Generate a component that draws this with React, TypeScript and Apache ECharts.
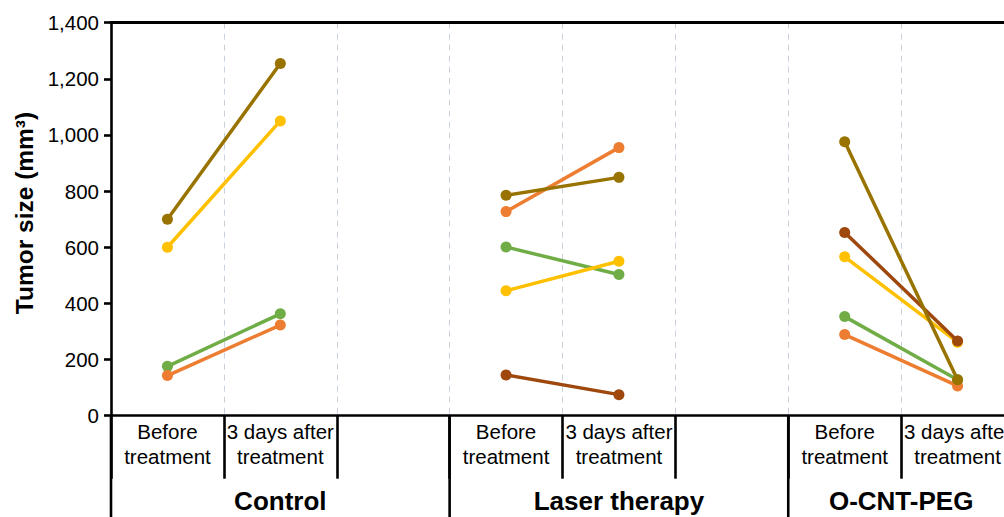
import React, { useEffect, useRef } from "react";
import * as echarts from "echarts";

const categories = [
  "Before\ntreatment",
  "3 days after\ntreatment",
  "",
  "Before\ntreatment",
  "3 days after\ntreatment",
  "",
  "Before\ntreatment",
  "3 days after\ntreatment",
];

const groups = ["Control", "Laser therapy", "O-CNT-PEG"];
const groupStart = [0, 3, 6];
const groupEnd = [3, 6, 8];

const yTicks = [0, 200, 400, 600, 800, 1000, 1200, 1400];

const oliveValues = [700, 1255, null, 785, 849, null, 976, 128];
const yellowValues = [600, 1050, null, 445, 550, null, 566, 262];
const greenValues = [176, 363, null, 601, 503, null, 353, 128];
const orangeValues = [143, 323, null, 727, 955, null, 289, 106];
const brownValues = [null, null, null, 145, 75, null, 653, 266];

const seriesDefs = [
  { name: "green", color: "#70AD47", data: greenValues },
  { name: "orange", color: "#ED7D31", data: orangeValues },
  { name: "yellow", color: "#FFC000", data: yellowValues },
  { name: "brown", color: "#9E480E", data: brownValues },
  { name: "olive", color: "#997300", data: oliveValues },
];

const FONT = "'Liberation Sans', Arial, Helvetica, sans-serif";
const CW = 1024;
const CH = 517;

export default function App() {
  const ref = useRef<HTMLDivElement>(null);

  useEffect(() => {
    if (!ref.current) return;
    const chart = echarts.init(ref.current, null, { renderer: "svg" });
    const left = 111;
    const rightEdge = 1014;
    const top = 22.7;
    const bottomY = 415.7;
    const catW = (rightEdge - left) / categories.length;

    const graphics: any[] = [];
    groupStart.forEach((s) => {
      const x = left + s * catW;
      graphics.push({
        type: "line",
        shape: { x1: x, y1: bottomY, x2: x, y2: CH },
        style: { stroke: "#000", lineWidth: 2.6 },
        z: 10,
      });
    });
    groups.forEach((g, i) => {
      const cx = left + ((groupStart[i] + groupEnd[i]) / 2) * catW;
      graphics.push({
        type: "text",
        x: cx,
        y: 501,
        style: {
          text: g,
          fontSize: 26,
          fontWeight: "bold",
          fontFamily: FONT,
          fill: "#000",
          textAlign: "center",
          textVerticalAlign: "middle",
        },
      });
    });
    graphics.push({
      type: "text",
      x: 24,
      y: 213,
      rotation: Math.PI / 2,
      style: {
        text: "Tumor size (mm³)",
        fontSize: 24.5,
        fontWeight: "bold",
        fontFamily: FONT,
        fill: "#000",
        textAlign: "center",
        textVerticalAlign: "middle",
      },
    });

    chart.setOption({
      animation: false,
      backgroundColor: "#fff",
      grid: {
        left,
        top,
        right: CW - rightEdge,
        bottom: CH - bottomY,
        containLabel: false,
      },
      xAxis: [
        {
          type: "category",
          data: categories,
          boundaryGap: true,
          axisLine: { show: true, lineStyle: { color: "#000", width: 2.6 } },
          axisTick: {
            show: true,
            inside: false,
            length: 63,
            interval: 0,
            lineStyle: { color: "#000", width: 2.6 },
          },
          axisLabel: {
            interval: 0,
            margin: 3,
            color: "#000",
            fontSize: 20.5,
            lineHeight: 25,
            fontFamily: FONT,
          },
          splitLine: {
            show: true,
            interval: 0,
            lineStyle: { color: "#c9d1dc", width: 1, type: [6, 5] },
          },
        },
        {
          type: "category",
          position: "top",
          data: categories,
          axisLine: { show: true, lineStyle: { color: "#000", width: 3 } },
          axisTick: { show: false },
          axisLabel: { show: false },
          splitLine: { show: false },
        },
      ],
      yAxis: {
        type: "value",
        min: 0,
        max: yTicks[yTicks.length - 1],
        interval: yTicks[1] - yTicks[0],
        axisLine: { show: true, lineStyle: { color: "#000", width: 2.6 } },
        axisTick: { show: true, length: 7, lineStyle: { color: "#000", width: 2.6 } },
        axisLabel: {
          color: "#000",
          fontSize: 20.5,
          fontFamily: FONT,
          margin: 12,
          formatter: (v: number) => v.toLocaleString("en-US"),
        },
        splitLine: { show: false },
      },
      series: seriesDefs.map((s) => ({
        name: s.name,
        type: "line",
        data: s.data,
        connectNulls: false,
        symbol: "circle",
        symbolSize: 11,
        showSymbol: true,
        lineStyle: { color: s.color, width: 3.5 },
        itemStyle: { color: s.color },
        z: 3,
      })),
      graphic: graphics,
    });

    return () => chart.dispose();
  }, []);

  return (
    <div
      style={{
        position: "fixed",
        left: 0,
        top: 0,
        width: 1004,
        height: 517,
        overflow: "hidden",
        background: "#fff",
      }}
    >
      <div ref={ref} style={{ width: CW, height: CH }} />
    </div>
  );
}
